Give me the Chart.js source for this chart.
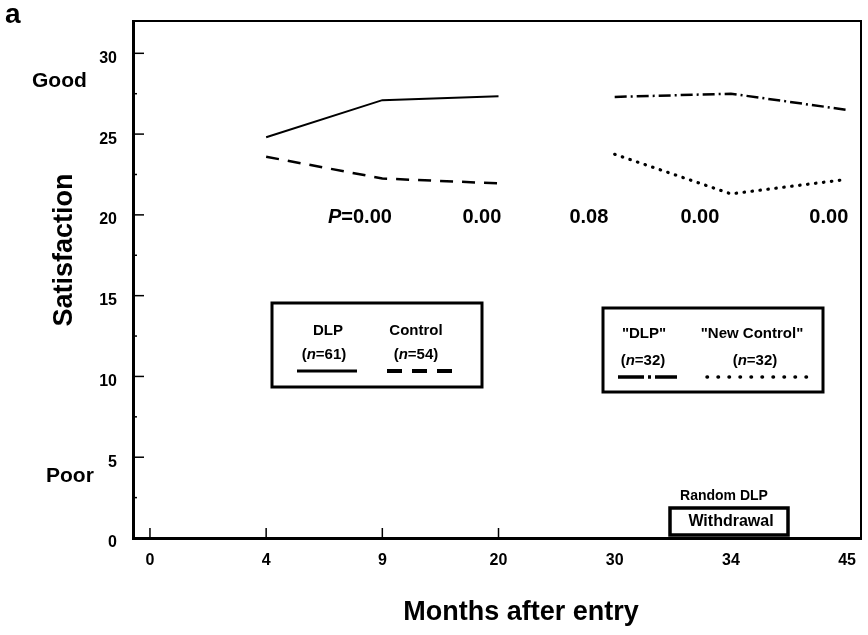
<!DOCTYPE html>
<html><head><meta charset="utf-8">
<script src="https://cdn.jsdelivr.net/npm/chart.js@4/dist/chart.umd.min.js"></script>
<style>html,body{margin:0;padding:0;background:#fff;}#wrap{width:868px;height:635px;}</style>
</head><body><div id="wrap"><canvas id="c" width="868" height="635"></canvas></div>
<script>
// ---- data ----
const categories = ['0','4','9','20','30','34','45'];
const yTicks = [0,5,10,15,20,25,30];
const dlp        = [null, 24.8, 27.1, 27.35, null, null, null];
const control    = [null, 23.6, 22.25, 21.95, null, null, null];
const dlpLate    = [null, null, null, null, 27.3, 27.5, 26.5];
const newControl = [null, null, null, null, 23.75, 21.3, 22.2];
const pLabels = ['0.00','0.00','0.08','0.00','0.00'];
const seriesNames = ['DLP','Control','"DLP"','"New Control"'];
const seriesN = ['61','54','32','32'];
const xTickMarks = ['0','4','9','20'];

// ---- layout / style ----
const FF = '"Liberation Sans", Arial, Helvetica, sans-serif';
const pPos = [1.807, 2.857, 3.778, 4.733, 5.843];
const pAt = 20;
const STY = {
  solid:   {dash: [], width: 2},
  dashed:  {dash: [13, 9], width: 2.5},
  dashdot: {dash: [12, 4, 2, 4], width: 2.5},
  dotted:  {dash: [0.5, 7.5], width: 3.2, cap: 'round'}
};
const toXY = arr => arr.map((v,i)=>({x:i, y:v}));

function txt(ctx, s, x, y, size, align, italic){
  ctx.font = (italic?'italic ':'') + 'bold ' + size + 'px ' + FF;
  ctx.textAlign = align || 'left';
  ctx.textBaseline = 'alphabetic';
  ctx.fillText(s, x, y);
}
function mixed(ctx, parts, cx, y, size){
  let w = 0;
  parts.forEach(p=>{ctx.font=(p[1]?'italic ':'')+'bold '+size+'px '+FF; w+=ctx.measureText(p[0]).width;});
  let x = cx - w/2;
  parts.forEach(p=>{ctx.font=(p[1]?'italic ':'')+'bold '+size+'px '+FF; ctx.textAlign='left'; ctx.textBaseline='alphabetic'; ctx.fillText(p[0], x, y); x+=ctx.measureText(p[0]).width;});
}
function seg(ctx, x1, x2, y, st, w){
  ctx.save();
  ctx.setLineDash(st.dash);
  ctx.lineWidth = w || st.width;
  ctx.lineCap = st.cap || 'butt';
  ctx.beginPath(); ctx.moveTo(x1, y); ctx.lineTo(x2, y); ctx.stroke();
  ctx.restore();
}

const deco = {
  id: 'deco',
  afterDraw(chart){
    const {ctx, chartArea: a, scales: {x, y}} = chart;
    ctx.save();
    ctx.fillStyle = '#000'; ctx.strokeStyle = '#000';
    // top / right frame
    ctx.lineWidth = 2;
    ctx.beginPath(); ctx.moveTo(a.left, a.top); ctx.lineTo(a.right, a.top); ctx.lineTo(a.right, a.bottom); ctx.stroke();
    // inward ticks
    ctx.lineWidth = 1.5;
    yTicks.forEach(v=>{
      const py = y.getPixelForValue(v);
      ctx.beginPath(); ctx.moveTo(a.left, py); ctx.lineTo(a.left+11, py); ctx.stroke();
      if (v + 2.5 < 30) {
        const pm = y.getPixelForValue(v+2.5);
        ctx.beginPath(); ctx.moveTo(a.left, pm); ctx.lineTo(a.left+4, pm); ctx.stroke();
      }
    });
    xTickMarks.forEach(c=>{
      const px = x.getPixelForValue(categories.indexOf(c));
      ctx.beginPath(); ctx.moveTo(px, a.bottom); ctx.lineTo(px, a.bottom-10); ctx.stroke();
    });
    // labels
    txt(ctx, 'a', 5, 23, 28);
    txt(ctx, 'Good', 32, 87, 21);
    txt(ctx, 'Poor', 46, 482, 21);
    ctx.save(); ctx.translate(72, 250); ctx.rotate(-Math.PI/2);
    txt(ctx, 'Satisfaction', 0, 0, 27, 'center'); ctx.restore();
    txt(ctx, 'Months after entry', 521, 620, 27, 'center');
    // P values
    const py = y.getPixelForValue(pAt) + 8;
    pLabels.forEach((s,i)=>{
      const cx = x.getPixelForValue(pPos[i]);
      if (i===0) mixed(ctx, [['P',true],['='+s,false]], cx, py, 20);
      else txt(ctx, s, cx, py, 20, 'center');
    });
    // legend box 1
    ctx.lineWidth = 3;
    ctx.strokeRect(272, 303, 210, 84);
    txt(ctx, seriesNames[0], 328, 335, 15, 'center');
    txt(ctx, seriesNames[1], 416, 335, 15, 'center');
    mixed(ctx, [['(',false],['n',true],['='+seriesN[0]+')',false]], 324, 359, 15);
    mixed(ctx, [['(',false],['n',true],['='+seriesN[1]+')',false]], 416, 359, 15);
    seg(ctx, 297, 357, 371, STY.solid, 3);
    seg(ctx, 387, 452, 371, {dash:[15,10]}, 4);
    // legend box 2
    ctx.lineWidth = 3;
    ctx.strokeRect(603, 308, 220, 84);
    txt(ctx, seriesNames[2], 644, 338, 15, 'center');
    txt(ctx, seriesNames[3], 752, 338, 15, 'center');
    mixed(ctx, [['(',false],['n',true],['='+seriesN[2]+')',false]], 643, 365, 15);
    mixed(ctx, [['(',false],['n',true],['='+seriesN[3]+')',false]], 755, 365, 15);
    seg(ctx, 618, 677, 377, {dash:[26,4,3,4]}, 3.5);
    seg(ctx, 707, 810, 377, {dash:[0.5,10.5], cap:'round'}, 3.5);
    // withdrawal
    txt(ctx, 'Random DLP', 724, 500, 14, 'center');
    ctx.fillStyle = '#fff'; ctx.fillRect(670, 508, 118, 27); ctx.fillStyle = '#000';
    ctx.lineWidth = 3.5; ctx.strokeRect(670, 508, 118, 27);
    txt(ctx, 'Withdrawal', 731, 526, 16, 'center');
    ctx.restore();
  }
};

function ds(label, arr, st){
  return {label, data: toXY(arr), borderColor:'#000', backgroundColor:'#000',
    borderWidth: st.width, borderDash: st.dash, borderCapStyle: st.cap || 'butt',
    pointRadius: 0, tension: 0, fill: false, spanGaps: false};
}

new Chart(document.getElementById('c'), {
  type: 'line',
  data: { datasets: [
    ds(seriesNames[0], dlp, STY.solid),
    ds(seriesNames[1], control, STY.dashed),
    ds(seriesNames[2], dlpLate, STY.dashdot),
    ds(seriesNames[3], newControl, STY.dotted)
  ]},
  options: {
    responsive: false, animation: false, devicePixelRatio: 1,
    layout: {padding: {top: 21, right: 7, left: 0, bottom: 0}},
    plugins: {legend: {display: false}, tooltip: {enabled: false}},
    scales: {
      x: {type: 'linear', min: -0.146, max: 6.12,
        afterBuildTicks: s => { s.ticks = categories.map((c,i)=>({value:i})); },
        afterFit: s => { s.height = 97; s.paddingLeft = 0; s.paddingRight = 0; },
        grid: {display: false, drawTicks: false},
        border: {display: true, color: '#000', width: 3},
        ticks: {callback: v => categories[v], color: '#000', padding: 13, maxRotation: 0, autoSkip: false,
          font: {family: FF, size: 16, weight: 'bold'}}
      },
      y: {min: 0, max: 32,
        afterBuildTicks: s => { s.ticks = yTicks.map(v=>({value:v})); },
        afterFit: s => { s.width = 133; s.paddingTop = 0; s.paddingBottom = 0; },
        grid: {display: false, drawTicks: false},
        border: {display: true, color: '#000', width: 3},
        ticks: {color: '#000', padding: 16, labelOffset: 5,
          font: {family: FF, size: 16, weight: 'bold'}}
      }
    }
  },
  plugins: [deco]
});
</script></body></html>
